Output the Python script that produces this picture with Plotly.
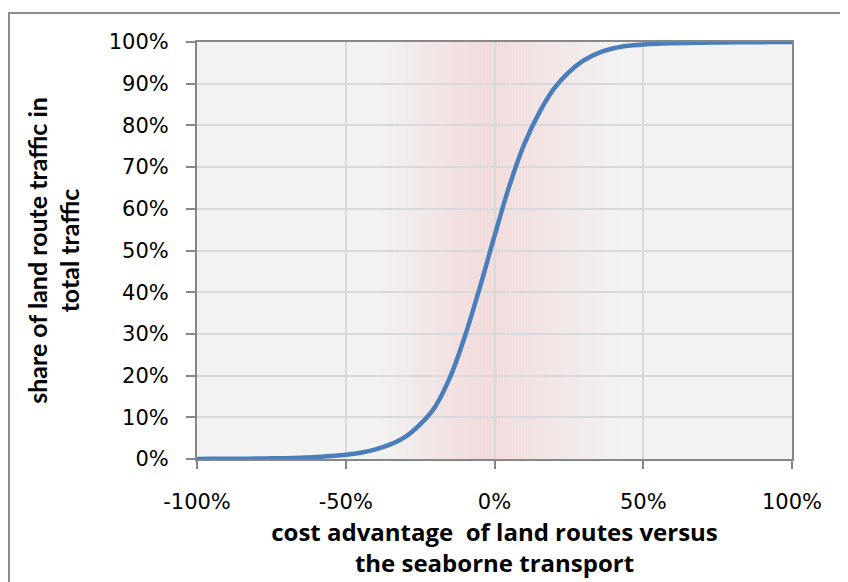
import plotly.graph_objects as go

# ---- data ----
cost_advantage = [-100, -95, -90, -85, -80, -75, -70, -65, -60, -55, -50, -45, -40, -35, -30,
                  -25, -20, -15, -10, -5, 0, 5, 10, 15, 20, 25, 30, 35, 40, 45, 50,
                  55, 60, 65, 70, 75, 80, 85, 90, 95, 100]
land_share = [0.02, 0.03, 0.05, 0.07, 0.1, 0.15, 0.2, 0.3, 0.45, 0.7, 1.0, 1.5, 2.3, 3.5, 5.3,
              8.3, 12.5, 19.5, 29.3, 41.0, 53.5, 65.5, 75.5, 83.0, 88.8, 92.8, 95.6, 97.4, 98.5, 99.1, 99.4,
              99.6, 99.7, 99.78, 99.84, 99.88, 99.92, 99.94, 99.96, 99.98, 100.0]

x_tickvals = [-100, -50, 0, 50, 100]
x_ticktext = ["-100%", "-50%", "0%", "50%", "100%"]
y_tickvals = [0, 10, 20, 30, 40, 50, 60, 70, 80, 90, 100]
y_ticktext = ["0%", "10%", "20%", "30%", "40%", "50%", "60%", "70%", "80%", "90%", "100%"]

x_title = "cost advantage  of land routes versus<br>the seaborne transport"
y_title = "share of land route traffic in<br>total traffic"

# ---- styling ----
BG = (242, 242, 242)
PINK = (242, 219, 219)
GRAY_LINE = "#878787"
GRID = "#d9d9d9"
TICK_FONT = dict(family="DejaVu Sans", size=21, color="#000000")

# the page body adds an 8px margin, so the plot box is placed 8px up/left
ML, MT, MR, MB = 189, 34, 64, 131
PLOT_W = 848 - ML - MR
PLOT_H = 582 - MT - MB

fig = go.Figure()
fig.add_trace(go.Scatter(
    x=cost_advantage, y=land_share, mode="lines",
    line=dict(color="#4a7ebb", width=4.5, shape="spline", smoothing=1.0),
    showlegend=False, hoverinfo="skip",
))

# soft pink vertical gradient band in the background (decoration)
def band_intensity(v):
    left0, left1, right1, right0 = -40.0, -4.0, 0.0, 42.0
    if v <= left0 or v >= right0:
        return 0.0
    if v < left1:
        return (v - left0) / (left1 - left0)
    if v <= right1:
        return 1.0
    return (right0 - v) / (right0 - right1)

shapes = []
step = 1.0
v = -42.0
while v < 44.0:
    t = band_intensity(v + step / 2)
    if t > 0:
        c = tuple(round(BG[i] + (PINK[i] - BG[i]) * t) for i in range(3))
        shapes.append(dict(type="rect", xref="x", yref="y", x0=v, x1=v + step + 0.05,
                           y0=0, y1=100, layer="below", line=dict(width=0),
                           fillcolor="rgb(%d,%d,%d)" % c))
    v += step

# outer chart border (extends beyond the right/bottom edge of the picture)
bx, by = 1, 5  # figure pixel position of the border's top-left corner
shapes.append(dict(type="rect", xref="paper", yref="paper",
                   x0=(bx - ML) / PLOT_W, x1=1.3, y0=-0.6, y1=(PLOT_H + MT - by) / PLOT_H,
                   line=dict(color="#8c8c8c", width=2), layer="above"))

fig.update_layout(
    width=848, height=582,
    margin=dict(l=ML, r=MR, t=MT, b=MB),
    paper_bgcolor="white",
    plot_bgcolor="rgb(%d,%d,%d)" % BG,
    shapes=shapes,
    font=dict(family="DejaVu Sans", color="#000000"),
)

fig.update_xaxes(
    range=[-100, 100], tickvals=x_tickvals, ticktext=x_ticktext,
    tickfont=TICK_FONT, ticks="outside", ticklen=8, tickwidth=2, tickcolor=GRAY_LINE,
    ticklabelstandoff=15,
    showline=True, linecolor=GRAY_LINE, linewidth=2, mirror=True,
    showgrid=True, gridcolor=GRID, gridwidth=1.5, zeroline=False,
    title=dict(text=x_title, font=dict(family="Open Sans", size=24, color="#000000", weight="bold"),
               standoff=11),
)
fig.update_yaxes(
    range=[0, 100], tickvals=y_tickvals, ticktext=y_ticktext,
    tickfont=TICK_FONT, ticks="outside", ticklen=9, tickwidth=2, tickcolor=GRAY_LINE,
    ticklabelstandoff=13,
    showline=True, linecolor=GRAY_LINE, linewidth=2, mirror=True,
    showgrid=True, gridcolor=GRID, gridwidth=1.5, zeroline=False,
    title=dict(text=y_title, font=dict(family="Lato", size=25, color="#000000", weight="bold"),
               standoff=22),
)

fig.write_html("out.html")
